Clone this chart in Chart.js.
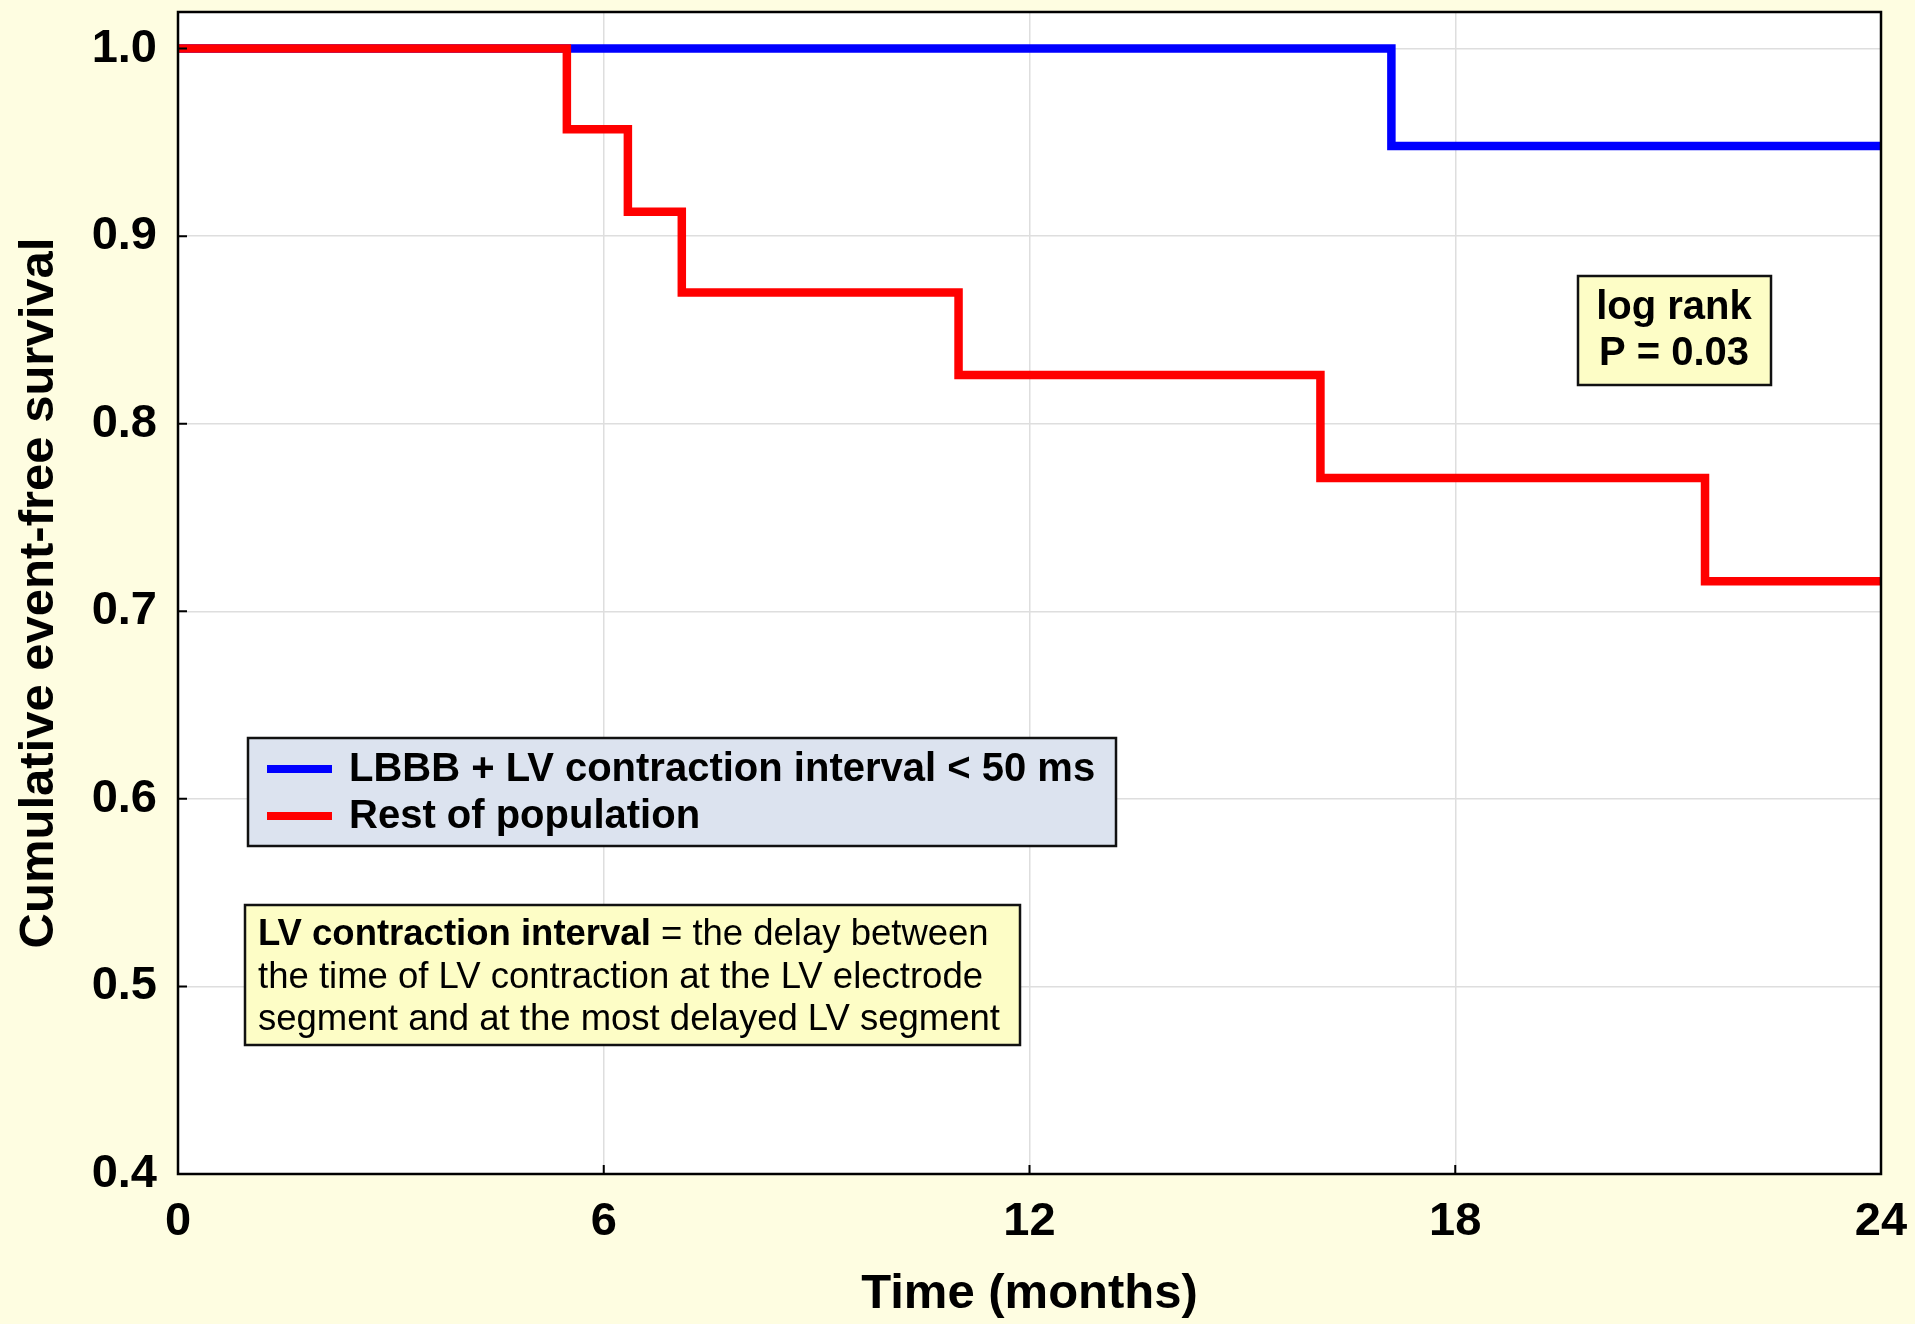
<!DOCTYPE html>
<html>
<head>
<meta charset="utf-8">
<title>Cumulative event-free survival</title>
<script src="https://cdn.jsdelivr.net/npm/chart.js@4.4.0/dist/chart.umd.min.js"></script>
<style>
  html, body { margin: 0; padding: 0; background: #fefde1; }
  #wrap { width: 1915px; height: 1324px; }
</style>
</head>
<body>
<div id="wrap"><canvas id="kmChart" width="1915" height="1324"></canvas></div>
<script>
// Kaplan-Meier steps (months -> survival)
const blueTimes = [0, 17.1, 24];
const blueSurv = [1.0, 0.948, 0.948];
const redTimes = [0, 5.48, 6.34, 7.1, 11.0, 16.1, 21.52, 24];
const redSurv = [1.0, 0.957, 0.913, 0.870, 0.826, 0.771, 0.716, 0.716];

const xTicks = [0, 6, 12, 18, 24];
const yTicks = [0.4, 0.5, 0.6, 0.7, 0.8, 0.9, 1.0];

const seriesLabels = ['LBBB + LV contraction interval < 50 ms', 'Rest of population'];
const seriesColors = ['#0000ff', '#ff0000'];
const statLines = ['log rank', 'P = 0.03'];
const noteBold = 'LV contraction interval';
const noteLines = [' = the delay between', 'the time of LV contraction at the LV electrode', 'segment and at the most delayed LV segment'];

const FONT = '"Liberation Sans", Arial, Helvetica, sans-serif';

const toPoints = (ts, ss) => ts.map((t, i) => ({ x: t, y: ss[i] }));

function box(ctx, x, y, w, h, fill) {
  ctx.fillStyle = fill;
  ctx.fillRect(x, y, w, h);
  ctx.strokeStyle = '#111';
  ctx.lineWidth = 2.5;
  ctx.strokeRect(x, y, w, h);
}

// no automatic label padding, the layout padding decides the plot box
function noPad(s) {
  s.paddingTop = 0;
  s.paddingBottom = 0;
  s.paddingLeft = 0;
  s.paddingRight = 0;
}

const frame = {
  id: 'frame',
  beforeDraw(chart) {
    const { ctx, chartArea: a } = chart;
    ctx.save();
    ctx.fillStyle = '#ffffff';
    ctx.fillRect(a.left, a.top, a.right - a.left, a.bottom - a.top);
    ctx.restore();
  },
  afterDatasetsDraw(chart) {
    const { ctx, chartArea: a, scales } = chart;
    ctx.save();

    // small inward tick marks
    ctx.strokeStyle = '#000';
    ctx.lineWidth = 2;
    ctx.beginPath();
    xTicks.forEach(v => {
      const px = scales.x.getPixelForValue(v);
      ctx.moveTo(px, a.bottom);
      ctx.lineTo(px, a.bottom - 9);
    });
    yTicks.forEach(v => {
      const py = scales.y.getPixelForValue(v);
      ctx.moveTo(a.left, py);
      ctx.lineTo(a.left + 9, py);
    });
    ctx.stroke();

    // plot frame
    ctx.lineWidth = 2.5;
    ctx.strokeStyle = '#000';
    ctx.strokeRect(a.left, a.top, a.right - a.left, a.bottom - a.top);

    // legend
    box(ctx, 248, 738, 868, 108, '#dce3ef');
    ctx.textBaseline = 'middle';
    ctx.font = 'bold 40px ' + FONT;
    [769, 816].forEach((ly, i) => {
      ctx.strokeStyle = seriesColors[i];
      ctx.lineWidth = 8;
      ctx.beginPath();
      ctx.moveTo(267, ly);
      ctx.lineTo(332, ly);
      ctx.stroke();
      ctx.fillStyle = '#000';
      ctx.textAlign = 'left';
      ctx.fillText(seriesLabels[i], 349, ly + 1);
    });

    // log rank box
    box(ctx, 1578, 276, 193, 109, '#fdfdc6');
    ctx.fillStyle = '#000';
    ctx.textAlign = 'center';
    ctx.font = 'bold 40px ' + FONT;
    ctx.fillText(statLines[0], 1674, 308);
    ctx.fillText(statLines[1], 1674, 354);

    // definition box
    box(ctx, 245, 905, 775, 140, '#fdfdc6');
    ctx.textAlign = 'left';
    ctx.fillStyle = '#000';
    ctx.font = 'bold 36.5px ' + FONT;
    ctx.fillText(noteBold, 258, 935);
    const bw = ctx.measureText(noteBold).width;
    ctx.font = '36.5px ' + FONT;
    ctx.fillText(noteLines[0], 258 + bw, 935);
    ctx.fillText(noteLines[1], 258, 978);
    ctx.fillText(noteLines[2], 258, 1020);

    ctx.restore();
  }
};

const tickFont = { family: FONT, size: 47, weight: 'bold' };

new Chart(document.getElementById('kmChart'), {
  type: 'line',
  data: {
    datasets: [
      {
        label: seriesLabels[0],
        data: toPoints(blueTimes, blueSurv),
        borderColor: seriesColors[0],
        borderWidth: 8.5,
        stepped: 'before',
        pointRadius: 0,
        fill: false,
        order: 2,
      },
      {
        label: seriesLabels[1],
        data: toPoints(redTimes, redSurv),
        borderColor: seriesColors[1],
        borderWidth: 8.5,
        stepped: 'before',
        pointRadius: 0,
        fill: false,
        order: 1,
      },
    ],
  },
  options: {
    responsive: false,
    animation: false,
    layout: { padding: { left: 0, right: 34, top: 12, bottom: 0 } },
    plugins: {
      legend: { display: false },
      tooltip: { enabled: false },
    },
    scales: {
      x: {
        type: 'linear',
        min: 0,
        max: 24,
        afterBuildTicks: (s) => { s.ticks = xTicks.map(v => ({ value: v })); },
        afterFit: (s) => { s.height = 150; noPad(s); },
        grid: { color: '#dedede', lineWidth: 1.5, drawTicks: false },
        border: { display: false },
        ticks: { padding: 20, color: '#000', font: tickFont, maxRotation: 0 },
        title: {
          display: true,
          text: 'Time (months)',
          color: '#000',
          font: { family: FONT, size: 49, weight: 'bold' },
          padding: { top: 0, bottom: 0 },
        },
      },
      y: {
        type: 'linear',
        min: 0.4,
        max: 1.0195,
        afterBuildTicks: (s) => { s.ticks = yTicks.map(v => ({ value: v })); },
        afterFit: (s) => { s.width = 178; noPad(s); },
        grid: { color: '#dedede', lineWidth: 1.5, drawTicks: false },
        border: { display: false },
        ticks: {
          padding: 21,
          color: '#000',
          font: tickFont,
          callback: (v) => Number(v).toFixed(1),
        },
        title: {
          display: true,
          text: 'Cumulative event-free survival',
          color: '#000',
          font: { family: FONT, size: 49, weight: 'bold' },
          padding: { top: 10, bottom: 0 },
        },
      },
    },
  },
  plugins: [frame],
});
</script>
</body>
</html>
